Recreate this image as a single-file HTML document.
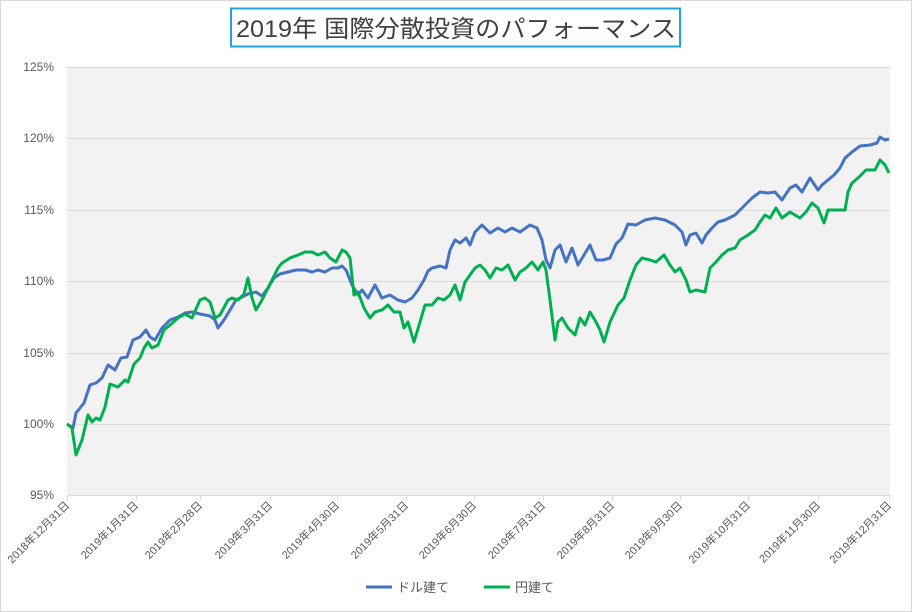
<!DOCTYPE html>
<html><head><meta charset="utf-8"><style>
body{margin:0;background:#fff;}
svg{display:block;font-family:"Liberation Sans","Noto Sans CJK JP",sans-serif;}
</style></head><body>
<svg width="912" height="612" viewBox="0 0 912 612">
<rect x="0.5" y="0.5" width="911" height="611" fill="#fff" stroke="#d9d9d9"/>
<rect x="67" y="67" width="823" height="428" fill="#f2f2f2"/>
<g stroke="#d9d9d9" stroke-width="1">
<line x1="67" y1="67.5" x2="890" y2="67.5"/>
<line x1="67" y1="138.5" x2="890" y2="138.5"/>
<line x1="67" y1="210.5" x2="890" y2="210.5"/>
<line x1="67" y1="281.5" x2="890" y2="281.5"/>
<line x1="67" y1="353.5" x2="890" y2="353.5"/>
<line x1="67" y1="424.5" x2="890" y2="424.5"/>
<line x1="67" y1="495.5" x2="890" y2="495.5"/>
<line x1="67.5" y1="495" x2="67.5" y2="500"/><line x1="136.5" y1="495" x2="136.5" y2="500"/><line x1="200.5" y1="495" x2="200.5" y2="500"/><line x1="270.5" y1="495" x2="270.5" y2="500"/><line x1="337.5" y1="495" x2="337.5" y2="500"/><line x1="406.5" y1="495" x2="406.5" y2="500"/><line x1="474.5" y1="495" x2="474.5" y2="500"/><line x1="543.5" y1="495" x2="543.5" y2="500"/><line x1="612.5" y1="495" x2="612.5" y2="500"/><line x1="680.5" y1="495" x2="680.5" y2="500"/><line x1="748.5" y1="495" x2="748.5" y2="500"/><line x1="818.5" y1="495" x2="818.5" y2="500"/><line x1="889.5" y1="495" x2="889.5" y2="500"/>
</g>
<g font-size="12" fill="#595959" text-anchor="end">
<text x="54" y="71">125%</text><text x="54" y="142">120%</text><text x="54" y="214">115%</text><text x="54" y="285">110%</text><text x="54" y="357">105%</text><text x="54" y="428">100%</text><text x="54" y="499">95%</text>
</g>
<g font-size="11" fill="#595959" text-anchor="end">
<text transform="translate(70,506) rotate(-45)">2018年12月31日</text>
<text transform="translate(139,506) rotate(-45)">2019年1月31日</text>
<text transform="translate(203,506) rotate(-45)">2019年2月28日</text>
<text transform="translate(273,506) rotate(-45)">2019年3月31日</text>
<text transform="translate(340,506) rotate(-45)">2019年4月30日</text>
<text transform="translate(409,506) rotate(-45)">2019年5月31日</text>
<text transform="translate(477,506) rotate(-45)">2019年6月30日</text>
<text transform="translate(546,506) rotate(-45)">2019年7月31日</text>
<text transform="translate(615,506) rotate(-45)">2019年8月31日</text>
<text transform="translate(683,506) rotate(-45)">2019年9月30日</text>
<text transform="translate(751,506) rotate(-45)">2019年10月31日</text>
<text transform="translate(821,506) rotate(-45)">2019年11月30日</text>
<text transform="translate(892,506) rotate(-45)">2019年12月31日</text>
</g>
<polyline fill="none" stroke="#4472c4" stroke-width="3" stroke-linejoin="round" points="67,424 73,428 76,413 84,403 90,385 96,383 102,378 108,365 115,370 121,358 127,357 133,340 140,337 146,330 150,337 155,340 162,328 170,320 178,317 185,313 192,312 200,314 210,316 215,320 218,328 224,320 230,310 236,300 242,297 248,294 256,292 262,296 268,288 274,278 280,274 288,272 296,270 305,270 312,272 318,270 325,272 332,268 338,268 342,266 346,270 352,285 358,295 362,290 368,298 375,285 382,298 390,295 398,300 405,302 412,298 418,290 424,280 428,271 432,268 440,266 446,268 450,250 455,240 460,243 466,238 470,245 475,232 482,225 490,233 498,228 505,232 512,228 520,232 530,225 537,228 542,240 546,260 550,268 555,250 560,245 566,262 572,248 578,265 584,255 590,245 596,260 603,260 610,258 616,244 622,238 628,224 636,225 645,220 655,218 665,220 675,225 682,232 686,245 690,235 696,233 702,243 706,235 712,228 718,222 725,220 735,215 740,210 745,205 752,198 760,192 768,193 775,192 782,200 790,188 796,185 802,192 810,178 818,190 822,185 828,180 834,175 840,168 845,158 852,152 860,146 870,145 877,143 880,137 885,140 889,139"/>
<polyline fill="none" stroke="#00b050" stroke-width="3" stroke-linejoin="round" points="67,424 72,428 76,455 82,440 88,415 92,422 96,418 100,420 105,407 110,384 118,387 125,380 128,382 134,364 140,358 144,348 148,342 152,348 158,345 164,330 170,325 178,318 185,314 192,318 200,300 205,298 210,302 215,318 220,315 228,300 232,298 238,300 244,294 248,278 252,298 256,310 262,300 268,288 272,280 278,268 282,263 290,258 298,255 305,252 312,252 318,255 325,252 330,258 336,262 342,250 346,252 350,258 354,295 358,292 364,308 370,318 375,312 382,310 388,305 394,312 400,312 404,328 408,322 414,342 420,322 425,305 432,305 438,298 444,300 450,295 455,285 460,300 465,282 470,275 475,268 480,265 485,270 490,278 496,268 502,270 508,265 515,280 520,272 526,268 532,262 538,270 543,262 546,270 550,300 555,340 558,322 562,318 568,328 575,335 580,318 585,325 590,312 596,322 600,330 604,342 610,322 618,305 624,298 630,280 636,265 642,258 650,260 656,262 664,255 670,265 675,272 680,268 686,280 690,292 696,290 705,292 710,268 716,262 722,255 728,250 735,248 740,240 748,235 755,230 760,222 765,215 770,218 776,208 782,218 790,212 800,218 806,212 812,203 818,208 824,223 828,210 834,210 845,210 848,192 852,183 858,178 866,170 875,170 880,160 885,165 889,173"/>
<rect x="231" y="8.5" width="449" height="38" fill="#fff" stroke="#1ea4dc" stroke-width="2"/>
<text x="236" y="37" font-size="24" fill="#404040" textLength="440" lengthAdjust="spacingAndGlyphs">2019年 国際分散投資のパフォーマンス</text>
<line x1="366" y1="587" x2="392" y2="587" stroke="#4472c4" stroke-width="3"/>
<text x="397" y="592" font-size="13" fill="#595959">ドル建て</text>
<line x1="484" y1="587" x2="510" y2="587" stroke="#00b050" stroke-width="3"/>
<text x="515" y="592" font-size="13" fill="#595959">円建て</text>
</svg>
</body></html>
